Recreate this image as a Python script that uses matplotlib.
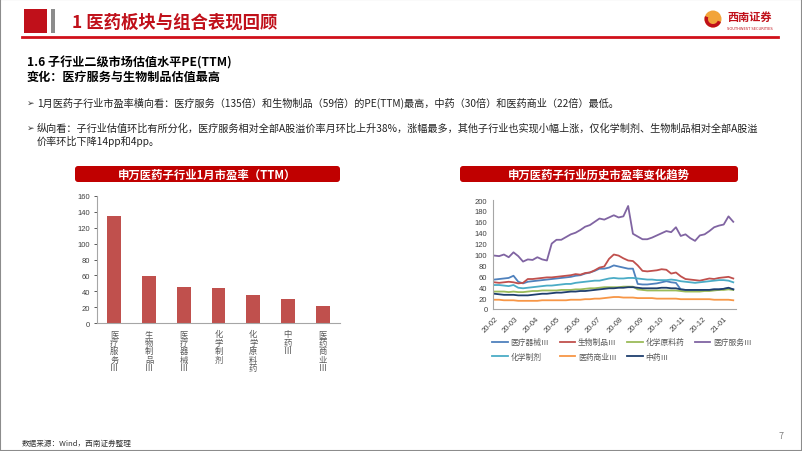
import matplotlib
matplotlib.use('Agg')
import matplotlib.pyplot as plt
import matplotlib.dates as mdates
from matplotlib.patches import Rectangle, FancyBboxPatch, Circle, Wedge
import pandas as pd

plt.rcParams['font.family'] = ['Noto Sans CJK SC', 'DejaVu Sans']

# ---- data: bar chart (PE TTM, Jan) ----
bar_labels = ['医疗服务Ⅲ', '生物制品Ⅲ', '医疗器械Ⅲ', '化学制剂', '化学原料药', '中药Ⅲ', '医药商业Ⅲ']
bar_values = [135, 59, 45, 44, 35, 30, 22]

# ---- data: weekly PE history ----
dates = pd.date_range('2020-01-31', periods=51, freq='7D')
pe_device = [54, 55, 56, 57, 61, 50, 47, 50, 51, 52, 53, 54, 55, 56, 57, 58, 59, 61, 62, 65,
             67, 70, 74, 74, 76, 80, 78, 76, 74, 74, 46, 45, 45, 46, 47, 49, 51, 49, 48, 36,
             35, 34, 34, 34, 35, 35, 36, 36, 37, 38, 36]
pe_bio = [49, 48, 49, 50, 49, 47, 48, 55, 55, 56, 57, 58, 58, 59, 60, 61, 62, 64, 63, 66,
          67, 71, 76, 78, 92, 100, 98, 93, 89, 88, 80, 70, 69, 70, 71, 73, 72, 65, 67, 60,
          55, 54, 53, 52, 54, 56, 55, 57, 58, 59, 56]
pe_api = [32, 32, 32, 31, 32, 31, 31, 32, 33, 33, 34, 34, 34, 34, 35, 35, 35, 36, 36, 37,
          38, 38, 39, 40, 40, 40, 40, 41, 41, 41, 36, 35, 34, 34, 34, 34, 34, 34, 34, 33,
          32, 32, 32, 32, 33, 33, 34, 35, 35, 36, 35]
pe_service = [98, 97, 100, 95, 104, 97, 87, 91, 90, 95, 91, 89, 120, 127, 127, 132, 137, 140, 145, 151,
              154, 160, 166, 164, 168, 172, 168, 170, 189, 138, 133, 128, 128, 131, 135, 139, 143, 141, 150, 134,
              137, 130, 125, 135, 137, 143, 150, 153, 155, 170, 160]
pe_chem = [44, 44, 43, 42, 44, 39, 38, 39, 40, 41, 42, 43, 43, 44, 45, 46, 46, 48, 49, 50,
           51, 52, 52, 54, 56, 57, 56, 56, 57, 57, 56, 55, 54, 54, 53, 53, 53, 54, 53, 51,
           50, 49, 48, 49, 50, 51, 52, 53, 53, 52, 49]
pe_dist = [17, 17, 16, 16, 16, 15, 15, 15, 15, 15, 16, 16, 16, 16, 16, 16, 17, 17, 17, 18,
           18, 19, 19, 20, 21, 22, 22, 21, 21, 21, 20, 20, 20, 20, 19, 19, 19, 19, 19, 18,
           18, 18, 18, 18, 18, 18, 17, 17, 17, 17, 16]
pe_tcm = [28, 27, 26, 26, 26, 25, 25, 25, 26, 27, 28, 28, 29, 30, 30, 31, 32, 32, 33, 33,
          34, 35, 36, 37, 38, 38, 39, 39, 40, 40, 39, 38, 38, 38, 38, 39, 39, 38, 38, 36,
          35, 35, 35, 35, 35, 35, 36, 36, 37, 39, 36]

series = [('医疗器械Ⅲ', pe_device, '#4F81BD'),
          ('生物制品Ⅲ', pe_bio, '#C0504D'),
          ('化学原料药', pe_api, '#9BBB59'),
          ('医疗服务Ⅲ', pe_service, '#8064A2'),
          ('化学制剂', pe_chem, '#4BACC6'),
          ('医药商业Ⅲ', pe_dist, '#F79646'),
          ('中药Ⅲ', pe_tcm, '#1F3F6E')]

W, H = 802, 452
fig = plt.figure(figsize=(8.02, 4.52), dpi=100)


def fx(x):
    return x / W


def fy(y):
    return 1 - y / H


RED = '#C00000'

# slide frame
fig.patches.append(Rectangle((0, 0), 1, 1, transform=fig.transFigure, fill=False,
                             edgecolor='#8C8C8C', lw=1.5))

# header
fig.patches.append(Rectangle((fx(24), fy(34)), fx(23), 24 / H, transform=fig.transFigure,
                             facecolor='#C0101A', edgecolor='none'))
fig.patches.append(Rectangle((fx(51), fy(34)), fx(4), 24 / H, transform=fig.transFigure,
                             facecolor='#8C8C8C', edgecolor='none'))
fig.text(fx(72), fy(23), '1 医药板块与组合表现回顾', fontsize=12.5, fontweight='bold',
         color='#C0101A', va='center', ha='left')
fig.add_artist(plt.Line2D([fx(22), fx(778)], [fy(38), fy(38)], transform=fig.transFigure,
                          color='#D0101A', lw=2))

# logo
fig.patches.append(Circle((7.13, (H - 20) / 100), 0.085, transform=fig.dpi_scale_trans,
                          facecolor='#F2A43A', edgecolor='none'))
fig.patches.append(Wedge((7.13, (H - 20) / 100), 0.085, 160, 340, width=0.035,
                         transform=fig.dpi_scale_trans, facecolor='#C0101A', edgecolor='none'))
fig.text(fx(727), fy(17), '西南证券', fontsize=8, fontweight='bold', color='#C0101A',
         va='center', ha='left')
fig.text(fx(727), fy(28.5), 'SOUTHWEST SECURITIES', fontsize=2.6, color='#C0101A',
         va='center', ha='left', family='DejaVu Sans')

# section heading
fig.text(fx(27), fy(63), '1.6 子行业二级市场估值水平PE(TTM)', fontsize=8.7, fontweight='bold',
         color='black', va='center')
fig.text(fx(27), fy(77), '变化：医疗服务与生物制品估值最高', fontsize=8.7, fontweight='bold',
         color='black', va='center')

# bullets
bullets = [
    (103, '1月医药子行业市盈率横向看：医疗服务（135倍）和生物制品（59倍）的PE(TTM)最高，中药（30倍）和医药商业（22倍）最低。'),
    (128, '纵向看：子行业估值环比有所分化，医疗服务相对全部A股溢价率月环比上升38%，涨幅最多，其他子行业也实现小幅上涨，仅化学制剂、生物制品相对全部A股溢'),
]
for yy, txt in bullets:
    fig.text(fx(27), fy(yy), '➢', fontsize=6.5, color='#333333', va='center',
             family=['DejaVu Sans'])
    fig.text(fx(37), fy(yy), txt, fontsize=7.3, color='#222222', va='center')
fig.text(fx(37), fy(141), '价率环比下降14pp和4pp。', fontsize=7.3, color='#222222', va='center')

# chart title boxes
for x0, x1, title in [(75, 340, '申万医药子行业1月市盈率（TTM）'),
                      (460, 738, '申万医药子行业历史市盈率变化趋势')]:
    fig.patches.append(FancyBboxPatch((x0 / 100, (H - 183) / 100), (x1 - x0) / 100, 16 / 100,
                                      boxstyle='round,pad=0,rounding_size=0.03',
                                      transform=fig.dpi_scale_trans,
                                      facecolor=RED, edgecolor='none'))
    fig.text(fx((x0 + x1) / 2), fy(175), title, fontsize=8.2, fontweight='bold',
             color='white', va='center', ha='center')

# ---- left: bar chart ----
ax1 = fig.add_axes([fx(97), fy(324.3), (340 - 97) / W, (324.3 - 196.7) / H])
ax1.bar(range(len(bar_values)), bar_values, width=0.4, color='#C0504D')
ax1.set_xlim(-0.5, len(bar_values) - 0.5)
ax1.set_ylim(0, 160)
ax1.set_yticks(range(0, 161, 20))
ax1.set_xticks(range(len(bar_labels)))
ax1.set_xticklabels(['\n'.join(s) for s in bar_labels], fontsize=6, color='#595959',
                    linespacing=0.95, va='top')
for s in ['top', 'right']:
    ax1.spines[s].set_visible(False)
for s in ['left', 'bottom']:
    ax1.spines[s].set_color('#A6A6A6')
    ax1.spines[s].set_linewidth(0.8)
ax1.tick_params(axis='y', labelsize=5.5, colors='#404040', length=2, width=0.6, pad=3)
ax1.tick_params(axis='x', length=0, pad=4)
for lab in ax1.get_yticklabels():
    lab.set_family('Liberation Sans')

# ---- right: line chart ----
ax2 = fig.add_axes([fx(493), fy(310), (736 - 493) / W, (310 - 201) / H])
handles = {}
for name, vals, col in series:
    ln, = ax2.plot(dates, vals, color=col, lw=1.3, label=name)
    handles[name] = ln
ax2.set_ylim(0, 200)
ax2.set_yticks(range(0, 201, 20))
ax2.set_xlim(pd.Timestamp('2020-01-29'), pd.Timestamp('2021-01-19'))
ax2.set_xticks(pd.date_range('2020-02-01', '2021-01-01', freq='MS'))
ax2.xaxis.set_major_formatter(mdates.DateFormatter('%y-%m'))
for lab in ax2.get_xticklabels():
    lab.set_rotation(45)
    lab.set_ha('right')
    lab.set_rotation_mode('anchor')
for s in ['top', 'right']:
    ax2.spines[s].set_visible(False)
for s in ['left', 'bottom']:
    ax2.spines[s].set_color('#A6A6A6')
    ax2.spines[s].set_linewidth(0.8)
ax2.tick_params(axis='both', labelsize=5.5, colors='#404040', length=0, pad=4)
for lab in ax2.get_xticklabels() + ax2.get_yticklabels():
    lab.set_family('Liberation Sans')

order = ['医疗器械Ⅲ', '化学制剂', '生物制品Ⅲ', '医药商业Ⅲ', '化学原料药', '中药Ⅲ', '医疗服务Ⅲ']
leg = fig.legend([handles[n] for n in order], order, ncol=4, loc='upper left',
                 bbox_to_anchor=(fx(486), fy(333)), frameon=False, fontsize=5.6,
                 handlelength=2.0, handletextpad=0.35, columnspacing=1.35, labelspacing=0.8,
                 borderpad=0.3)
for t in leg.get_texts():
    t.set_color('#595959')

# footer
fig.text(fx(22), fy(444), '数据来源：Wind，西南证券整理', fontsize=5.5, color='#333333',
         va='center', style='italic')
fig.text(fx(779), fy(437), '7', fontsize=6.5, color='#808080', va='center')

fig.savefig('out.png', dpi=100)
